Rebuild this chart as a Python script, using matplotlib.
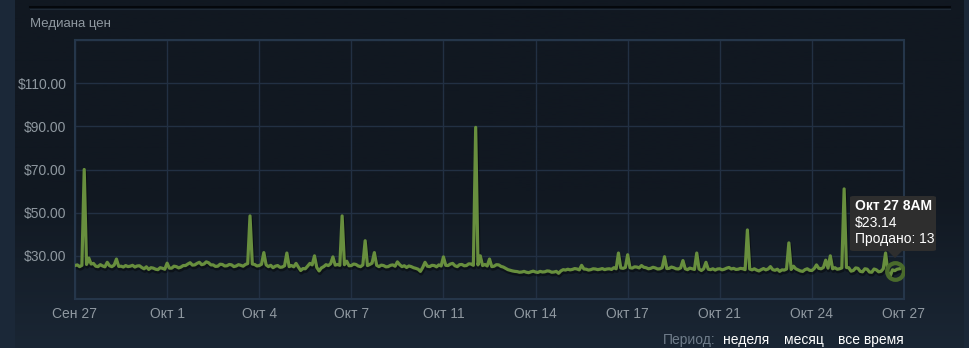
import numpy as np
import matplotlib
matplotlib.use("Agg")
import matplotlib.pyplot as plt
import matplotlib.transforms as mtrans
from matplotlib.patches import FancyBboxPatch, Polygon

plt.rcParams['font.family'] = ['Liberation Sans', 'DejaVu Sans']

# медиана цен, шаг 2 часа начиная с Сен 27 (12 точек в день)
prices = [
    25.5, 25.8, 25.0, 25.6, 70.0, 26.0, 29.0, 26.2, 26.5, 25.2, 25.0, 25.9,
    25.3, 24.9, 27.0, 25.4, 25.0, 25.7, 28.5, 25.1, 25.2, 24.8, 25.5, 25.0,
    25.2, 25.6, 24.8, 25.3, 25.4, 24.6, 24.0, 24.9, 23.7, 24.5, 24.3, 23.8,
    23.6, 24.5, 24.2, 23.8, 26.6, 24.3, 24.3, 25.2, 25.0, 24.4, 24.8, 25.5,
    25.5, 26.2, 26.8, 25.7, 25.8, 26.5, 27.0, 25.9, 26.2, 27.2, 26.8, 25.8,
    25.8, 25.1, 25.2, 26.1, 26.0, 25.3, 25.4, 26.0, 25.8, 25.0, 25.3, 25.9,
    25.6, 25.2, 26.0, 26.4, 48.5, 26.2, 26.0, 25.3, 25.5, 26.1, 31.5, 25.8,
    25.0, 25.6, 24.5, 25.2, 25.5, 24.7, 24.8, 25.4, 31.3, 25.0, 25.5, 24.9,
    26.5, 24.8, 23.2, 24.1, 24.0, 25.2, 26.5, 25.8, 30.0, 24.6, 23.0, 24.4,
    25.0, 25.9, 25.5, 26.3, 29.5, 25.7, 26.0, 25.6, 48.5, 25.9, 27.5, 25.4,
    25.5, 26.2, 26.0, 25.3, 25.0, 25.8, 37.0, 25.5, 26.0, 26.6, 31.5, 25.6,
    25.0, 25.7, 25.5, 24.9, 25.0, 25.6, 25.8, 25.2, 27.2, 25.9, 25.0, 25.4,
    24.6, 25.3, 25.0, 24.5, 24.2, 23.8, 22.8, 24.6, 27.0, 25.2, 25.0, 25.6,
    25.5, 24.9, 25.8, 25.3, 29.5, 25.6, 25.5, 26.2, 26.5, 25.4, 25.0, 25.9,
    26.0, 25.4, 25.5, 26.3, 26.2, 25.6, 89.5, 25.8, 30.0, 25.5, 26.0, 25.3,
    28.5, 25.0, 25.2, 25.9, 25.8, 25.1, 24.8, 24.2, 23.6, 23.3, 23.0, 22.8,
    22.7, 22.4, 22.5, 22.8, 22.4, 22.2, 22.6, 22.9, 22.5, 22.3, 22.8, 22.5,
    22.6, 23.0, 22.9, 22.4, 22.5, 22.8, 21.9, 23.0, 23.6, 23.4, 23.8, 23.5,
    23.7, 24.1, 23.9, 23.5, 25.6, 23.9, 23.8, 23.4, 23.6, 24.0, 23.9, 23.6,
    23.8, 24.1, 23.6, 23.9, 24.0, 23.7, 24.5, 24.0, 31.3, 24.4, 24.2, 24.6,
    30.5, 24.5, 24.3, 24.9, 24.8, 24.4, 25.5, 24.7, 24.5, 24.0, 24.2, 24.7,
    24.4, 23.9, 24.0, 24.5, 29.6, 24.1, 24.2, 24.8, 24.5, 24.0, 23.9, 24.4,
    27.8, 24.0, 23.6, 24.3, 24.0, 23.7, 31.3, 23.9, 23.2, 24.0, 27.0, 23.8,
    23.6, 24.0, 23.4, 23.9, 24.0, 23.5, 23.8, 24.3, 24.6, 23.9, 24.2, 23.7,
    23.8, 24.2, 24.0, 23.6, 42.0, 23.9, 23.5, 24.0, 23.4, 23.0, 23.6, 24.1,
    23.5, 23.9, 25.0, 23.6, 23.3, 23.8, 22.8, 23.5, 23.4, 23.9, 36.0, 23.7,
    25.2, 24.0, 23.5, 23.0, 22.8, 23.6, 24.0, 23.3, 23.2, 24.1, 25.8, 24.2,
    24.0, 24.6, 28.0, 24.3, 30.0, 24.0, 24.5, 23.8, 24.0, 24.4, 61.0, 24.6,
    24.5, 22.9, 23.2, 24.4, 24.2, 22.8, 22.6, 24.0, 23.8, 22.5, 22.4, 23.9,
    23.5, 22.6, 22.8, 24.0, 31.3, 22.5, 20.6, 23.5, 23.14, 23.8, 24.0,
]
x_labels = ["Сен 27", "Окт 1", "Окт 4", "Окт 7", "Окт 11",
            "Окт 14", "Окт 17", "Окт 21", "Окт 24", "Окт 27"]
y_ticks = [30, 50, 70, 90, 110, 130]
y_labels = ["$30.00", "$50.00", "$70.00", "$90.00", "$110.00", ""]
hl_index = 356
hl_text = ["Окт 27 8AM", "$23.14", "Продано: 13"]
periods = ["неделя", "месяц", "все время"]

W, H = 970, 348
fig = plt.figure(figsize=(W / 100, H / 100), dpi=100)
fig.patch.set_facecolor('#1b2838')

# фон панели с градиентом к низу
bg = fig.add_axes([15 / W, 0, (964 - 15) / W, 1])
grad = np.linspace(0, 1, 256).reshape(-1, 1)
grad = np.clip((grad - 0.55) / 0.45, 0, 1)
top_c = np.array([0x11, 0x18, 0x21]) / 255
bot_c = np.array([0x1a, 0x26, 0x34]) / 255
img = top_c[None, None, :] * (1 - grad[:, :, None]) + bot_c[None, None, :] * grad[:, :, None]
bg.imshow(img, aspect='auto', extent=[0, 1, 0, 1], origin='upper')
bg.set_xlim(0, 1)
bg.set_ylim(0, 1)
bg.axis('off')

# верхняя линия
fig.add_artist(plt.Line2D([30 / W, 950 / W], [1 - 7 / H, 1 - 7 / H], color='#05080c', lw=1.5))
fig.add_artist(plt.Line2D([30 / W, 950 / W], [1 - 9 / H, 1 - 9 / H], color='#1f2a36', lw=0.8))

fig.text(30 / W, 1 - 24 / H, "Медиана цен", color='#8f98a0', fontsize=9.5, va='center', ha='left')

ax = fig.add_axes([75 / W, 1 - 299 / H, (904 - 75) / W, (299 - 40) / H])
ax.patch.set_alpha(0.0)

x = np.arange(len(prices)) / 12.0
ax.set_xlim(0, 30)
ax.set_ylim(10, 130)
ax.set_xticks(np.linspace(0, 30, len(x_labels)))
ax.set_xticklabels(x_labels)
ax.set_yticks(y_ticks)
ax.set_yticklabels(y_labels)
ax.tick_params(colors='#8f98a0', labelsize=10, length=0, pad=6)
for lbl in ax.get_xticklabels() + ax.get_yticklabels():
    lbl.set_color('#8f98a0')
ax.grid(True, color='#223043', lw=1)
ax.set_axisbelow(True)
for sp in ax.spines.values():
    sp.set_color('#25364a')
    sp.set_linewidth(1.5)

# тень и линия
shadow = ax.transData + mtrans.ScaledTranslation(0.5 / 72, -1.5 / 72, fig.dpi_scale_trans)
ax.plot(x, prices, color='#000000', alpha=0.4, lw=3, transform=shadow)
ax.plot(x, prices, color='#688f3e', lw=2.3, solid_joinstyle='round', zorder=3)

# подсветка точки
hx, hy = x[hl_index], prices[hl_index]
ax.plot([hx], [hy], marker='o', ms=12, mfc='none', mec='#4a6b2c', mew=3, zorder=4)

# всплывающая подсказка
tip = FancyBboxPatch((850 / W, 1 - 251 / H), (936 - 850) / W, (251 - 196) / H,
                     boxstyle='round,pad=0,rounding_size=0.004', transform=fig.transFigure,
                     facecolor='#2e2e2e', edgecolor='none', zorder=10)
fig.add_artist(tip)
fig.add_artist(Polygon([[888 / W, 1 - 251 / H], [902 / W, 1 - 251 / H], [895 / W, 1 - 258 / H]],
                       closed=True, transform=fig.transFigure, facecolor='#2e2e2e',
                       edgecolor='none', zorder=10))
fig.text(855 / W, 1 - 206 / H, hl_text[0], color='white', fontsize=10, fontweight='bold',
         va='center', ha='left', zorder=11)
fig.text(855 / W, 1 - 223 / H, hl_text[1], color='white', fontsize=10, va='center', ha='left', zorder=11)
fig.text(855 / W, 1 - 239 / H, hl_text[2], color='white', fontsize=10, va='center', ha='left', zorder=11)

# период
fig.text(663 / W, 1 - 340 / H, "Период:", color='#6f7c8a', fontsize=10, va='center', ha='left')
for px, t in zip([723, 784, 838], periods):
    fig.text(px / W, 1 - 340 / H, t, color='#ffffff', fontsize=10, va='center', ha='left')

fig.savefig("out.png", dpi=100, facecolor=fig.get_facecolor())
